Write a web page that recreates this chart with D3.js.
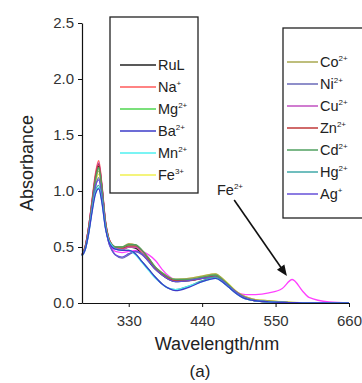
<!DOCTYPE html>
<html><head><meta charset="utf-8">
<script src="https://cdn.jsdelivr.net/npm/d3@7/dist/d3.min.js"></script>
<style>body{margin:0;background:#fff}svg{display:block}text{font-family:"Liberation Sans",Arial,sans-serif}</style>
</head><body><svg id="c" width="362" height="383"></svg>
<script>
const wavelengths=[260,265,270,275,280,285,290,295,300,305,310,320,330,340,350,360,370,380,390,400,420,440,460,470,480,490,500,510,520,540,560,575,590,600,630,660];
const RuL=[.43,.50,.66,.88,1.10,1.22,1.02,.72,.57,.51,.49,.48,.50,.49,.44,.37,.30,.25,.21,.19,.20,.22,.24,.20,.15,.10,.06,.035,.02,.01,.005,.003,.002,.001,.001,0];
const Na=[.43,.51,.68,.92,1.15,1.27,1.05,.74,.58,.52,.49,.47,.50,.50,.45,.38,.31,.26,.22,.20,.21,.23,.25,.21,.15,.10,.06,.035,.02,.01,.005,.003,.002,.001,.001,0];
const Mg=[.43,.50,.66,.87,1.09,1.20,1.01,.72,.57,.52,.50,.50,.52,.51,.46,.39,.31,.26,.22,.21,.21,.23,.25,.21,.16,.10,.06,.035,.02,.01,.005,.003,.002,.001,.001,0];
const Ba=[.42,.48,.62,.81,.97,1.02,.89,.67,.55,.50,.48,.47,.47,.44,.37,.30,.23,.17,.13,.11,.14,.19,.22,.19,.14,.09,.05,.03,.02,.01,.005,.003,.002,.001,.001,0];
const Mn=[.42,.48,.62,.82,.98,1.03,.90,.68,.56,.51,.48,.47,.47,.43,.36,.29,.22,.17,.13,.12,.15,.19,.22,.19,.14,.09,.05,.03,.02,.01,.005,.003,.002,.001,.001,0];
const Fe3=[.43,.50,.65,.85,1.06,1.15,.98,.71,.57,.51,.49,.49,.51,.51,.46,.39,.32,.27,.23,.21,.22,.24,.26,.22,.17,.11,.07,.045,.03,.02,.012,.006,.003,.002,.001,0];
const Co=[.43,.50,.66,.86,1.08,1.18,1.00,.72,.57,.52,.50,.50,.53,.52,.47,.40,.32,.27,.23,.21,.22,.24,.26,.22,.16,.11,.07,.045,.03,.02,.01,.005,.003,.002,.001,0];
const Ni=[.43,.49,.64,.84,1.03,1.12,.96,.70,.54,.47,.43,.40,.43,.46,.44,.38,.31,.26,.22,.20,.20,.22,.23,.20,.15,.10,.06,.035,.02,.01,.005,.003,.002,.001,.001,0];
const Cu=[.43,.51,.68,.91,1.13,1.25,1.04,.74,.58,.52,.49,.48,.50,.50,.46,.39,.31,.26,.22,.20,.21,.22,.24,.20,.15,.10,.06,.035,.02,.01,.005,.003,.002,.001,.001,0];
const Zn=[.43,.51,.68,.90,1.12,1.24,1.03,.73,.58,.52,.50,.49,.51,.51,.47,.39,.31,.26,.22,.20,.20,.22,.24,.20,.15,.10,.06,.035,.02,.01,.005,.003,.002,.001,.001,0];
const Cd=[.43,.50,.66,.88,1.10,1.21,1.02,.72,.57,.52,.50,.50,.52,.52,.47,.40,.32,.27,.23,.21,.21,.23,.25,.21,.16,.10,.06,.035,.02,.01,.005,.003,.002,.001,.001,0];
const Hg=[.42,.48,.63,.83,1.00,1.05,.91,.68,.56,.51,.48,.47,.47,.44,.37,.30,.23,.17,.13,.12,.15,.20,.23,.19,.14,.09,.05,.03,.02,.01,.005,.003,.002,.001,.001,0];
const Ag=[.43,.49,.64,.85,1.04,1.10,.95,.69,.54,.47,.43,.41,.44,.46,.43,.37,.30,.25,.21,.19,.20,.22,.23,.20,.15,.10,.06,.035,.02,.01,.005,.003,.002,.001,.001,0];
const Fe2=[.43,.51,.68,.90,1.12,1.23,1.03,.73,.56,.49,.46,.45,.46,.47,.46,.43,.38,.30,.24,.21,.21,.22,.23,.20,.15,.10,.08,.075,.075,.09,.13,.21,.11,.05,.01,.003];

const xTicks=[330,440,550,660];
const yTicks=[0,0.5,1.0,1.5,2.0,2.5];

const legend1=[
 {base:"RuL",sup:"",color:"#222222",data:RuL},
 {base:"Na",sup:"+",color:"#ff5a5a",data:Na},
 {base:"Mg",sup:"2+",color:"#4fd64f",data:Mg},
 {base:"Ba",sup:"2+",color:"#3b3bc8",data:Ba},
 {base:"Mn",sup:"2+",color:"#4ff0f0",data:Mn},
 {base:"Fe",sup:"3+",color:"#f0f050",data:Fe3}];
const legend2=[
 {base:"Co",sup:"2+",color:"#a8a850",data:Co},
 {base:"Ni",sup:"2+",color:"#6a6ab8",data:Ni},
 {base:"Cu",sup:"2+",color:"#c050c0",data:Cu},
 {base:"Zn",sup:"2+",color:"#c03838",data:Zn},
 {base:"Cd",sup:"2+",color:"#50a060",data:Cd},
 {base:"Hg",sup:"2+",color:"#40a8a8",data:Hg},
 {base:"Ag",sup:"+",color:"#6650d8",data:Ag}];
const fe2Series={base:"Fe",sup:"2+",color:"#ff40ff",data:Fe2};

const svg=d3.select("#c");
const x=d3.scaleLinear().domain([260,660]).range([82,349]);
const y=d3.scaleLinear().domain([0,2.5]).range([303,23]);

const order=[fe2Series,legend1[0],legend1[1],legend1[2],legend1[5],legend2[0],legend2[1],legend2[2],legend2[3],legend2[4],legend2[6],legend2[5],legend1[4],legend1[3]];
const line=d3.line().x((d,i)=>x(wavelengths[i])).y(d=>y(d)).curve(d3.curveMonotoneX);
svg.append("g").selectAll("path").data(order).join("path")
 .attr("d",s=>line(s.data)).attr("fill","none").attr("stroke",s=>s.color).attr("stroke-width",1.3);

const xa=svg.append("g").attr("transform","translate(0,303)").call(d3.axisBottom(x).tickValues(xTicks).tickSize(4).tickSizeOuter(0).tickFormat(d3.format("d")));
const ya=svg.append("g").attr("transform","translate(82,0)").call(d3.axisLeft(y).tickValues(yTicks).tickSize(4).tickSizeOuter(0).tickFormat(d3.format(".1f")));
[xa,ya].forEach(a=>{a.select(".domain").attr("stroke","#111").attr("stroke-width",1.2);a.selectAll(".tick line").attr("stroke","#111");
 a.selectAll("text").attr("font-size",15).attr("fill","#333").attr("font-family","Liberation Sans, Arial, sans-serif");});
xa.selectAll("text").attr("dy","1.05em");
ya.selectAll("text").attr("dx","-1");

svg.append("text").attr("x",217).attr("y",350).attr("text-anchor","middle").attr("font-size",18).attr("fill","#222").text("Wavelength/nm");
svg.append("text").attr("transform","translate(33,163) rotate(-90)").attr("text-anchor","middle").attr("font-size",18).attr("fill","#222").text("Absorbance");
svg.append("text").attr("x",200).attr("y",377).attr("text-anchor","middle").attr("font-size",17).attr("fill","#222").text("(a)");

function legend(items,bx,by,bw,bh,y0,lx1,lx2,tx){
 const g=svg.append("g");
 g.append("rect").attr("x",bx).attr("y",by).attr("width",bw).attr("height",bh).attr("fill","#fff").attr("stroke","#222").attr("stroke-width",1.3);
 items.forEach((s,i)=>{
  const yy=y0+i*22;
  g.append("line").attr("x1",lx1).attr("x2",lx2).attr("y1",yy).attr("y2",yy).attr("stroke",s.color).attr("stroke-width",1.5);
  const t=g.append("text").attr("x",tx).attr("y",yy+5).attr("font-size",14.5).attr("fill","#222");
  t.append("tspan").text(s.base);
  if(s.sup) t.append("tspan").attr("dy",-6).attr("font-size",8).text(s.sup);
 });
}
legend(legend1,110,17,88,176,65,120,156,158);
legend(legend2,283,28,90,190,62,287,318,320);

const ann=svg.append("text").attr("x",217).attr("y",195).attr("font-size",14.5).attr("fill","#222");
ann.append("tspan").text(fe2Series.base);
ann.append("tspan").attr("dy",-6).attr("font-size",8).text(fe2Series.sup);
const ax1=x(488),ay1=y(0.92),ax2=x(567),ay2=y(0.24);
const ang=Math.atan2(ay2-ay1,ax2-ax1);
svg.append("line").attr("x1",ax1).attr("y1",ay1).attr("x2",ax2-8*Math.cos(ang)).attr("y2",ay2-8*Math.sin(ang)).attr("stroke","#111").attr("stroke-width",1.6);
const hl=11,hw=4.5;
const p=[[ax2,ay2],[ax2-hl*Math.cos(ang)+hw*Math.sin(ang),ay2-hl*Math.sin(ang)-hw*Math.cos(ang)],[ax2-hl*Math.cos(ang)-hw*Math.sin(ang),ay2-hl*Math.sin(ang)+hw*Math.cos(ang)]];
svg.append("path").attr("d","M"+p.map(q=>q.join(",")).join("L")+"Z").attr("fill","#111");
</script></body></html>
